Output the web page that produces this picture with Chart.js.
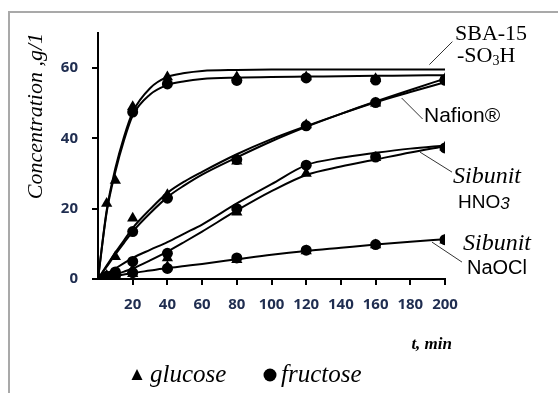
<!DOCTYPE html>
<html>
<head>
<meta charset="utf-8">
<script src="https://cdn.jsdelivr.net/npm/chart.js@4.4.0/dist/chart.umd.min.js"></script>
<style>
    html, body { margin: 0; padding: 0; background: #fff; }
    #wrap { position: relative; width: 558px; height: 393px; overflow: hidden; }
    #frame { position: absolute; left: 8px; top: 11px; right: -10px; bottom: -10px;
             border-top: 2px solid #a9a9a9; border-left: 2px solid #a9a9a9; }
    canvas { position: absolute; left: 0; top: 0; }
</style>
</head>
<body>
<div id="wrap">
    <div id="frame"></div>
    <canvas id="chart" width="558" height="393"></canvas>
</div>
<script>
    // 測定点 (min)
    const times = [0, 5, 10, 20, 40, 80, 120, 160, 200];
    const sbaGlucose = [0, 21.5, 28, 49, 57.5, 57.5, 57.5, 57, 57];
    const sbaFructose = [0, null, null, 47.5, 55.5, 56.5, 57.2, 56.6, 56.6];
    const nafionGlucose = [0, 1, 6.3, 17.3, 24, 33.5, 43.8, 50, 56.5];
    const nafionFructose = [0, 0.8, 2, 13.5, 23, 34, 43.6, 50.2, 56.6];
    const hno3Glucose = [0, 0.3, 0.8, 2.6, 6, 19, 30, 34.5, 37.5];
    const hno3Fructose = [0, 0.5, 1.5, 5, 7.3, 20, 32.4, 34.7, 37.3];
    const naoclGlucose = [0, 0.3, 0.8, 1.5, 3.5, 5.5, 8, 9.7, 11];
    const naoclFructose = [0, 0.3, 0.8, 1.8, 3, 6, 8.2, 9.8, 11.2];

    // 曲線
    const fitTimes = [0, 5, 10, 15, 20, 30, 40, 50, 60, 80, 100, 120, 140, 160, 180, 200];
    const sbaGlucoseFit = [0, 19.5, 31.5, 40.5, 47.5, 54.3, 57.5, 58.6, 59.2, 59.5, 59.6, 59.6, 59.6, 59.6, 59.6, 59.6];
    const sbaFructoseFit = [0, 19, 30.5, 39.5, 46.5, 52.5, 55.2, 56.3, 56.9, 57.3, 57.5, 57.6, 57.7, 57.8, 57.9, 58];
    const nafionGlucoseFit = [0, 3.8, 7.5, 11, 14.5, 19.8, 24.5, 27.8, 30.5, 35.5, 39.8, 43.5, 47, 50.3, 53.2, 56];
    const nafionFructoseFit = [0, 3.5, 7, 10.3, 13.5, 18.7, 23.3, 26.7, 29.7, 34.6, 39.2, 43.3, 47, 50.5, 53.8, 57];
    const hno3GlucoseFit = [0, 0.6, 1.3, 2.1, 3, 5.3, 7.8, 10.6, 13.5, 19.5, 25, 29.6, 32, 34, 36, 37.8];
    const hno3FructoseFit = [0, 1.5, 3, 4.5, 6, 8.3, 10.5, 13, 15.5, 21.5, 27, 32.4, 34.5, 35.9, 37.1, 38];
    const naoclFit = [0, 0.4, 0.9, 1.3, 1.7, 2.4, 3.1, 3.7, 4.3, 5.6, 6.9, 8, 8.9, 9.8, 10.6, 11.3];

    const xTicks = [20, 40, 60, 80, 100, 120, 140, 160, 180, 200];
    const yTicks = [0, 20, 40, 60];

    const toXY = (xs, ys) => xs.map((x, i) => ({ x: x, y: ys[i] }));

    const markerSet = (values, style) => ({
        type: 'scatter',
        data: toXY(times, values),
        pointStyle: style,
        pointRadius: style === 'triangle' ? 6.5 : 5.5,
        backgroundColor: '#000',
        borderColor: '#000',
        borderWidth: 0,
        order: 0
    });

    const fitSet = (values) => ({
        type: 'line',
        data: toXY(fitTimes, values),
        borderColor: '#000',
        borderWidth: 2,
        pointRadius: 0,
        fill: false,
        cubicInterpolationMode: 'monotone',
        order: 1
    });

    // 触媒ラベルと引出線
    const notes = [
        { t: 191, c: 61, dx: 23, dy: -23, lines: [
            { x: 455, y: 40, parts: [['SBA-15', '22px "Liberation Serif"', 0]] },
            { x: 457, y: 62, parts: [['-SO', '22px "Liberation Serif"', 0], ['3', '14px "Liberation Serif"', 3], ['H', '22px "Liberation Serif"', 0]] }
        ] },
        { t: 175, c: 51.5, dx: 21, dy: 21, lines: [
            { x: 424, y: 122, parts: [['Nafion®', '21px "Liberation Sans"', 0]] }
        ] },
        { t: 185.6, c: 36.1, dx: 32, dy: 20, lines: [
            { x: 453, y: 183, parts: [['Sibunit', 'italic 24px "Liberation Serif"', 0]] },
            { x: 458, y: 208, parts: [['HNO', '19px "Liberation Sans"', 0], ['3', 'italic 17px "Liberation Sans"', 1]] }
        ] },
        { t: 192.5, c: 10.5, dx: 30, dy: 20, lines: [
            { x: 463, y: 250, parts: [['Sibunit', 'italic 24px "Liberation Serif"', 0]] },
            { x: 467, y: 274, parts: [['NaOCl', '20px "Liberation Sans"', 0]] }
        ] }
    ];

    const notePlugin = {
        id: 'notes',
        afterDraw(chart) {
            const ctx = chart.ctx;
            const xs = chart.scales.x, ys = chart.scales.y;
            ctx.save();
            ctx.fillStyle = '#000';
            ctx.textBaseline = 'alphabetic';
            ctx.textAlign = 'left';
            notes.forEach(n => {
                const px = xs.getPixelForValue(n.t), py = ys.getPixelForValue(n.c);
                ctx.strokeStyle = '#333';
                ctx.lineWidth = 1;
                ctx.beginPath();
                ctx.moveTo(px, py);
                ctx.lineTo(px + n.dx, py + n.dy);
                ctx.stroke();
                n.lines.forEach(l => {
                    let x = l.x;
                    l.parts.forEach(p => {
                        ctx.font = p[1];
                        ctx.fillText(p[0], x, l.y + p[2]);
                        x += ctx.measureText(p[0]).width;
                    });
                });
            });

            // x軸タイトル
            ctx.font = 'italic bold 17px "Liberation Serif"';
            ctx.textAlign = 'right';
            ctx.fillText('t, min', 452, 349);
            ctx.textAlign = 'left';

            // 凡例
            ctx.beginPath();
            ctx.moveTo(137, 369);
            ctx.lineTo(142.5, 380);
            ctx.lineTo(131.5, 380);
            ctx.closePath();
            ctx.fill();
            ctx.beginPath();
            ctx.arc(270, 375, 6.5, 0, Math.PI * 2);
            ctx.fill();
            ctx.font = 'italic 25px "Liberation Serif"';
            ctx.fillText('glucose', 150, 382);
            ctx.fillText('fructose', 281, 382);
            ctx.restore();
        }
    };

    const tickColor = '#1f2d50';

    new Chart(document.getElementById('chart'), {
        data: {
            datasets: [
                markerSet(sbaGlucose, 'triangle'),
                markerSet(sbaFructose, 'circle'),
                markerSet(nafionGlucose, 'triangle'),
                markerSet(nafionFructose, 'circle'),
                markerSet(hno3Glucose, 'triangle'),
                markerSet(hno3Fructose, 'circle'),
                markerSet(naoclGlucose, 'triangle'),
                markerSet(naoclFructose, 'circle'),
                fitSet(sbaGlucoseFit),
                fitSet(sbaFructoseFit),
                fitSet(nafionGlucoseFit),
                fitSet(nafionFructoseFit),
                fitSet(hno3GlucoseFit),
                fitSet(hno3FructoseFit),
                fitSet(naoclFit)
            ]
        },
        options: {
            responsive: false,
            animation: false,
            layout: { padding: { left: 10, top: 33, right: 113, bottom: 41 } },
            plugins: {
                legend: { display: false },
                tooltip: { enabled: false }
            },
            scales: {
                x: {
                    type: 'linear',
                    min: 0,
                    max: 200,
                    afterBuildTicks: s => { s.ticks = xTicks.map(v => ({ value: v })); },
                    afterFit: s => { s.height = 73; },
                    ticks: {
                        color: tickColor,
                        padding: 11,
                        font: { family: '"Open Sans"', weight: 'bold', size: 15 }
                    },
                    grid: { drawOnChartArea: false, drawTicks: true, tickLength: 6, color: '#000', lineWidth: 2 },
                    border: { display: true, color: '#000', width: 2 }
                },
                y: {
                    type: 'linear',
                    min: 0,
                    max: 70,
                    afterBuildTicks: s => { s.ticks = yTicks.map(v => ({ value: v })); },
                    afterFit: s => { s.width = 88; },
                    ticks: {
                        color: tickColor,
                        padding: 14,
                        font: { family: '"Open Sans"', weight: 'bold', size: 15 }
                    },
                    grid: { drawOnChartArea: false, drawTicks: true, tickLength: 6, color: '#000', lineWidth: 2 },
                    border: { display: true, color: '#000', width: 2 },
                    title: {
                        display: true,
                        text: 'Concentration ,g/1',
                        align: 'end',
                        color: '#000',
                        padding: { top: 13, bottom: 0 },
                        font: { family: '"Liberation Serif"', style: 'italic', size: 22 }
                    }
                }
            }
        },
        plugins: [notePlugin]
    });
</script>
</body>
</html>
